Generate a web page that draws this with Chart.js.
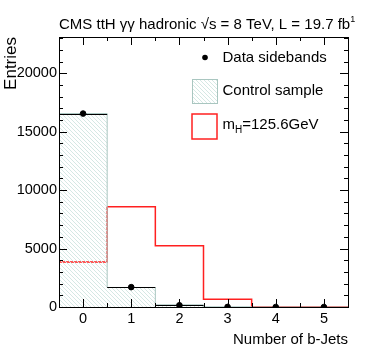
<!DOCTYPE html>
<html>
<head>
<meta charset="utf-8">
<script src="https://cdn.jsdelivr.net/npm/chart.js@4.4.0/dist/chart.umd.min.js"></script>
<style>
  html, body { margin: 0; padding: 0; background: #fff; }
  #wrap { width: 374px; height: 362px; }
</style>
</head>
<body>
<div id="wrap"><canvas id="graph1" width="374" height="362"></canvas></div>
<script>
// bins = number of b-jets
let bins = [0, 1, 2, 3, 4, 5];
let dataSidebands = [16550, 1700, 150, 8, 1, 0];
let controlSample = [16550, 1670, 190, 15, 1, 0];
let signalMH = [3850, 8570, 5230, 660, 0, 0];
let xTicks = [0, 1, 2, 3, 4, 5];
let yTicks = [0, 5000, 10000, 15000, 20000];
let yMax = 23100;

const FONT = '"Liberation Sans", Arial, Helvetica, sans-serif';
const hatchColor = '#d5e8e4';
const controlLine = '#a9c6c0';

// hatch pattern for the control sample
function makeHatch() {
    let c = document.createElement('canvas');
    c.width = 4;
    c.height = 4;
    let g = c.getContext('2d');
    g.strokeStyle = hatchColor;
    g.lineWidth = 1;
    g.beginPath();
    g.moveTo(-1, -1); g.lineTo(5, 5);
    g.moveTo(-1, 3); g.lineTo(1, 5);
    g.moveTo(3, -1); g.lineTo(5, 1);
    g.stroke();
    return g.createPattern(c, 'repeat');
}
const ctx = document.getElementById('graph1').getContext('2d');
const hatch = makeHatch();

// step points from bin edges
function steps(vals) {
    let pts = vals.map((v, i) => ({ x: bins[i] - 0.5, y: v }));
    pts.push({ x: bins[bins.length - 1] + 0.5, y: vals[vals.length - 1] });
    return pts;
}

const rootStyle = {
    id: 'rootStyle',
    afterDatasetsDraw(chart) {
        let c = chart.ctx;
        let xs = chart.scales.x, ys = chart.scales.y;
        let a = chart.chartArea;

        // data error bars (x width = bin, y = sqrt N)
        c.save();
        c.strokeStyle = '#000';
        c.lineWidth = 1;
        dataSidebands.forEach((v, i) => {
            let y = ys.getPixelForValue(v);
            let x0 = xs.getPixelForValue(bins[i] - 0.5);
            let x1 = xs.getPixelForValue(bins[i] + 0.5);
            let xc = xs.getPixelForValue(bins[i]);
            c.beginPath();
            c.moveTo(x0, Math.round(y) + 0.5);
            c.lineTo(x1, Math.round(y) + 0.5);
            let e = Math.sqrt(v);
            c.moveTo(Math.round(xc) + 0.5, ys.getPixelForValue(v + e));
            c.lineTo(Math.round(xc) + 0.5, Math.min(ys.getPixelForValue(v - e), a.bottom));
            c.stroke();
        });

        // frame
        c.lineWidth = 1;
        c.strokeRect(Math.round(a.left) + 0.5, Math.round(a.top) + 0.5,
            Math.round(a.right - a.left), Math.round(a.bottom - a.top));

        // y ticks, major every 5000 and minor every 1000, both sides
        c.beginPath();
        for (let v = 0; v <= yMax; v += 1000) {
            let y = Math.round(ys.getPixelForValue(v)) + 0.5;
            let len = (v % 5000 === 0) ? 8 : 4;
            c.moveTo(a.left, y); c.lineTo(a.left + len, y);
            c.moveTo(a.right, y); c.lineTo(a.right - len, y);
        }
        // x ticks, major at integers, minor at half
        for (let v = -0.5; v <= 5.5; v += 0.5) {
            let x = Math.round(xs.getPixelForValue(v)) + 0.5;
            let len = Number.isInteger(v) ? 8 : 4;
            c.moveTo(x, a.bottom); c.lineTo(x, a.bottom - len);
            c.moveTo(x, a.top); c.lineTo(x, a.top + len);
        }
        c.stroke();
        c.restore();
    },
    afterDraw(chart) {
        let c = chart.ctx;
        let a = chart.chartArea;
        c.save();
        c.fillStyle = '#000';
        c.textBaseline = 'alphabetic';

        // title
        c.font = '15px ' + FONT;
        c.textAlign = 'left';
        let t = 'CMS ttH \u03b3\u03b3 hadronic \u221as = 8 TeV, L = 19.7 fb';
        c.fillText(t, a.left, 28.5);
        let tw = c.measureText(t).width;
        c.font = '9px ' + FONT;
        c.fillText('1', a.left + tw, 22);

        // axis titles
        c.font = '15px ' + FONT;
        c.textAlign = 'right';
        c.fillText('Number of b-Jets', a.right, 344);

        c.save();
        c.translate(16, a.top);
        c.rotate(-Math.PI / 2);
        c.font = '17px ' + FONT;
        c.textAlign = 'right';
        c.fillText('Entries', 0, 0);
        c.restore();

        // legend
        c.font = '15px ' + FONT;
        c.textAlign = 'left';
        c.textBaseline = 'middle';
        c.beginPath();
        c.arc(205, 57.5, 2.8, 0, Math.PI * 2);
        c.fill();
        c.fillText('Data sidebands', 222.5, 58);

        c.fillStyle = hatch;
        c.fillRect(193, 80, 24, 23);
        c.strokeStyle = controlLine;
        c.lineWidth = 1;
        c.strokeRect(192.5, 79.5, 25, 24);
        c.fillStyle = '#000';
        c.fillText('Control sample', 222.5, 91);

        c.strokeStyle = '#ff2020';
        c.lineWidth = 1.5;
        c.strokeRect(192, 114, 25, 25);
        c.fillText('m', 222.5, 125);
        let mw = c.measureText('m').width;
        c.font = '10px ' + FONT;
        c.fillText('H', 222.5 + mw, 130);
        let hw = c.measureText('H').width;
        c.font = '15px ' + FONT;
        c.fillText('=125.6GeV', 222.5 + mw + hw, 125);
        c.restore();
    }
};

let myChart = new Chart(ctx, {
    type: 'scatter',
    data: {
        datasets: [{
            label: 'Data sidebands',
            data: bins.map((b, i) => ({ x: b, y: dataSidebands[i] })),
            backgroundColor: '#000',
            borderColor: '#000',
            pointRadius: 2.8,
            pointHoverRadius: 2.8,
            showLine: false
        }, {
            label: 'Control sample',
            data: steps(controlSample),
            showLine: true,
            stepped: 'before',
            borderColor: controlLine,
            borderWidth: 1,
            backgroundColor: hatch,
            fill: 'origin',
            pointRadius: 0
        }, {
            label: 'mH=125.6GeV',
            data: steps(signalMH),
            showLine: true,
            stepped: 'before',
            borderColor: '#ff2020',
            borderWidth: 1.5,
            fill: false,
            pointRadius: 0
        }]
    },
    options: {
        responsive: false,
        animation: false,
        layout: { padding: { left: 0, top: 37, right: 26, bottom: 0 } },
        plugins: {
            legend: { display: false },
            tooltip: { enabled: false }
        },
        scales: {
            x: {
                type: 'linear',
                min: -0.5,
                max: 5.5,
                afterBuildTicks: s => { s.ticks = xTicks.map(v => ({ value: v })); },
                afterFit: s => { s.height = 55; },
                grid: { display: false, drawTicks: false },
                border: { display: false },
                ticks: { color: '#000', padding: 3, font: { family: FONT, size: 14.5 } }
            },
            y: {
                min: 0,
                max: yMax,
                afterBuildTicks: s => { s.ticks = yTicks.map(v => ({ value: v })); },
                afterFit: s => { s.width = 59; },
                grid: { display: false, drawTicks: false },
                border: { display: false },
                ticks: {
                    color: '#000', padding: 2, font: { family: FONT, size: 14.5 },
                    callback: v => String(v)
                }
            }
        }
    },
    plugins: [rootStyle]
});
</script>
</body>
</html>
